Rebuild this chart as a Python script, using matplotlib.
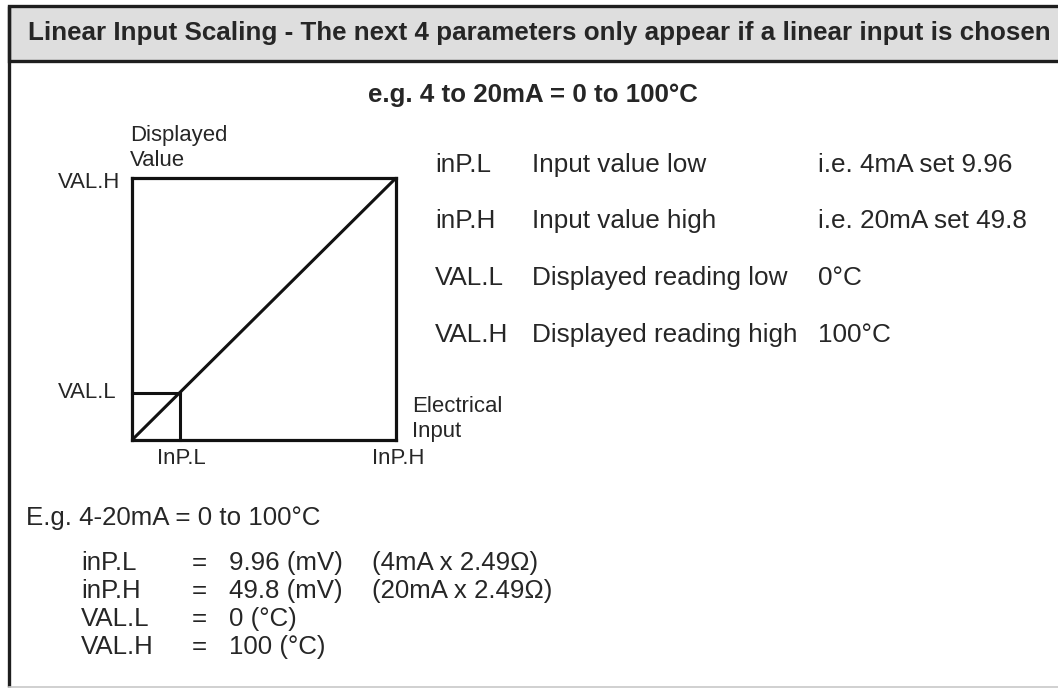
import matplotlib
matplotlib.use("Agg")
import matplotlib.pyplot as plt
from matplotlib.patches import Rectangle

# ---------------- data ----------------
title = "Linear Input Scaling - The next 4 parameters only appear if a linear input is chosen"
subtitle = "e.g. 4 to 20mA = 0 to 100°C"

# schematic scaling diagram (fractions of the full range)
input_axis = [0.0, 0.18, 1.0]      # origin, inP.L, inP.H
display_axis = [0.0, 0.18, 1.0]    # origin, VAL.L, VAL.H
y_axis_title = ["Displayed", "Value"]
x_axis_title = ["Electrical", "Input"]
x_labels = ["InP.L", "InP.H"]
y_labels = ["VAL.L", "VAL.H"]

param_codes = ["inP.L", "inP.H", "VAL.L", "VAL.H"]
param_desc = ["Input value low", "Input value high",
              "Displayed reading low", "Displayed reading high"]
param_example = ["i.e. 4mA set 9.96", "i.e. 20mA set 49.8", "0°C", "100°C"]

example_heading = "E.g. 4-20mA = 0 to 100°C"
example_values = ["9.96 (mV)", "49.8 (mV)", "0 (°C)", "100 (°C)"]
example_notes = ["(4mA x 2.49Ω)", "(20mA x 2.49Ω)", "", ""]

# ---------------- figure ----------------
FONT = ["Liberation Sans", "DejaVu Sans"]
TXT = "#262626"
W, H = 1058, 689
fig = plt.figure(figsize=(W / 100, H / 100), dpi=100)
fig.patch.set_facecolor("white")
ax = fig.add_axes([0, 0, 1, 1])
ax.set_xlim(0, W)
ax.set_ylim(H, 0)
ax.axis("off")
renderer = fig.canvas.get_renderer()


def fit_size(s, target_w, weight="normal"):
    t = ax.text(0, 0, s, fontsize=20, fontweight=weight, family=FONT)
    w = t.get_window_extent(renderer).width
    t.remove()
    return 20 * target_w / w


def txt(x, y, s, size, weight="normal", ha="left"):
    ax.text(x, y, s, fontsize=size, fontweight=weight, family=FONT,
            color=TXT, ha=ha, va="center")


# outer frame and header band
ax.add_patch(Rectangle((9, 6), 1080, 55, facecolor="#dedede",
                       edgecolor="#1e1e1e", lw=2.4, clip_on=False))
ax.plot([9, 9], [6, 687], color="#1e1e1e", lw=2.4, solid_capstyle="butt")
ax.plot([9, W], [687, 687], color="#c8c8c8", lw=1.2)

title_size = fit_size(title, 1020, "bold")
txt(28, 33, title, title_size, "bold")
sub_size = fit_size(subtitle, 330, "bold")
txt(533, 95, subtitle, sub_size, "bold", ha="center")

# ---------------- diagram ----------------
x0, x1, y0, y1 = 132, 396, 178, 440
dax = fig.add_axes([x0 / W, (H - y1) / H, (x1 - x0) / W, (y1 - y0) / H])
dax.set_xlim(input_axis[0], input_axis[-1])
dax.set_ylim(display_axis[0], display_axis[-1])
dax.set_xticks([])
dax.set_yticks([])
for sp in dax.spines.values():
    sp.set_linewidth(2.3)
    sp.set_color("#111111")
lw = 2.2
dax.plot([input_axis[0], input_axis[-1]], [display_axis[0], display_axis[-1]],
         color="#111111", lw=lw, clip_on=False, solid_capstyle="butt")
dax.plot([input_axis[0], input_axis[1]], [display_axis[1], display_axis[1]],
         color="#111111", lw=lw, clip_on=False)
dax.plot([input_axis[1], input_axis[1]], [display_axis[0], display_axis[1]],
         color="#111111", lw=lw, clip_on=False)

diag_size = fit_size("Displayed", 97)
txt(130, 135, y_axis_title[0], diag_size)
txt(130, 160, y_axis_title[1], diag_size)
txt(58, 182, y_labels[1], diag_size)
txt(58, 392, y_labels[0], diag_size)
txt(157, 459, x_labels[0], diag_size)
txt(372, 459, x_labels[1], diag_size)
txt(412, 407, x_axis_title[0], diag_size)
txt(412, 432, x_axis_title[1], diag_size)

# ---------------- parameter table ----------------
table_size = fit_size("Displayed reading high", 265)
row_y = [165, 221, 278, 335]
for y, c, d, e in zip(row_y, param_codes, param_desc, param_example):
    txt(435, y, c, table_size)
    txt(532, y, d, table_size)
    txt(818, y, e, table_size)

# ---------------- worked example ----------------
ex_size = fit_size("(20mA x 2.49Ω)", 181)
txt(26, 518, example_heading, ex_size)
ex_y = [563, 591, 619, 647]
for y, c, v, n in zip(ex_y, param_codes, example_values, example_notes):
    txt(81, y, c, ex_size)
    txt(192, y, "=", ex_size)
    txt(229, y, v, ex_size)
    if n:
        txt(372, y, n, ex_size)

fig.savefig("out.png", dpi=100, facecolor="white")
